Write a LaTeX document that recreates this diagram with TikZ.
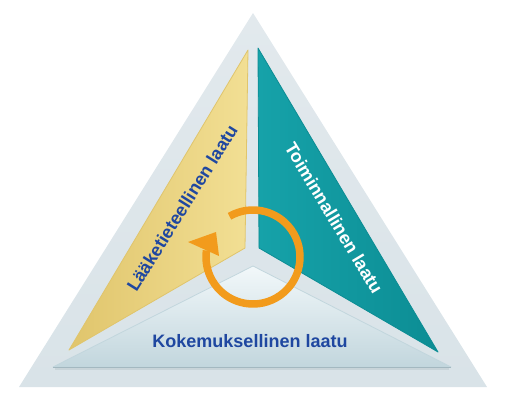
\documentclass[tikz,border=0pt]{standalone}
\usepackage{fontspec}
\setmainfont{Liberation Sans}
\usepackage{tikz}
\usetikzlibrary{calc}
\definecolor{framebg}{HTML}{D9E3E8}
\definecolor{frametop}{HTML}{E2E9ED}
\definecolor{sand}{HTML}{F2DF94}
\definecolor{sanddark}{HTML}{E0C56C}
\definecolor{petrol}{HTML}{16A2A9}
\definecolor{petroldark}{HTML}{0C8D94}
\definecolor{ice}{HTML}{F2F8FA}
\definecolor{icedark}{HTML}{C2D6DD}
\definecolor{iceedge}{HTML}{A3B8C0}
\definecolor{ink}{HTML}{1F47A0}
\definecolor{ring}{HTML}{F29B1C}
\tikzset{
  lab/.style={text=ink, inner sep=0pt, font=\bfseries\fontsize{18}{18}\selectfont},
  labw/.style={lab, text=white},
  loop/.style={draw=ring, line width=7.5pt},
  rim/.style={line width=0.8pt, line join=round},
}

\begin{document}
\begin{tikzpicture}[x=1pt,y=1pt]
  \useasboundingbox (0,0) rectangle (505,402);
  \coordinate (T) at (253,389);
  \coordinate (L) at (19,15);
  \coordinate (R) at (487,15);
  \coordinate (Y1) at (248,352);
  \coordinate (Y2) at (245,154);
  \coordinate (Y3) at (69,52);
  \coordinate (G1) at (258,354);
  \coordinate (G2) at (259,154);
  \coordinate (G3) at (438,50);
  \coordinate (K1) at (253,136);
  \coordinate (K2) at (53,35);
  \coordinate (K3) at (451,35);
  \coordinate (M) at (253,145);
  \shade[top color=frametop, bottom color=framebg] (T) -- (L) -- (R) -- cycle;
  \shade[left color=sanddark, right color=sand, rim, draw=sanddark] (Y1) -- (Y2) -- (Y3) -- cycle;
  \shade[left color=petrol, right color=petroldark, rim, draw=petroldark] (G1) -- (G2) -- (G3) -- cycle;
  \draw[iceedge!60, line width=2.5pt] ($(K2)+(2,-1.5)$) -- ($(K3)+(-2,-1.5)$);
  \shade[top color=ice, bottom color=icedark, rim, draw=icedark] (K1) -- (K2) -- (K3) -- cycle;
  \draw[iceedge, line width=1pt] (K2) -- (K3);
  \draw[loop] ($(M)+(120:47)$) arc (120:-188:47);
  \fill[ring] (216,170) -- (188,160) -- (219,146) -- cycle;
  \node[lab, rotate=58] (med) at (182,194) {Lääketieteellinen laatu};
  \node[labw, rotate=-59] (ops) at (334,184) {Toiminnallinen laatu};
  \node[lab] (exp) at (250,61) {Kokemuksellinen laatu};
\end{tikzpicture}
\end{document}
